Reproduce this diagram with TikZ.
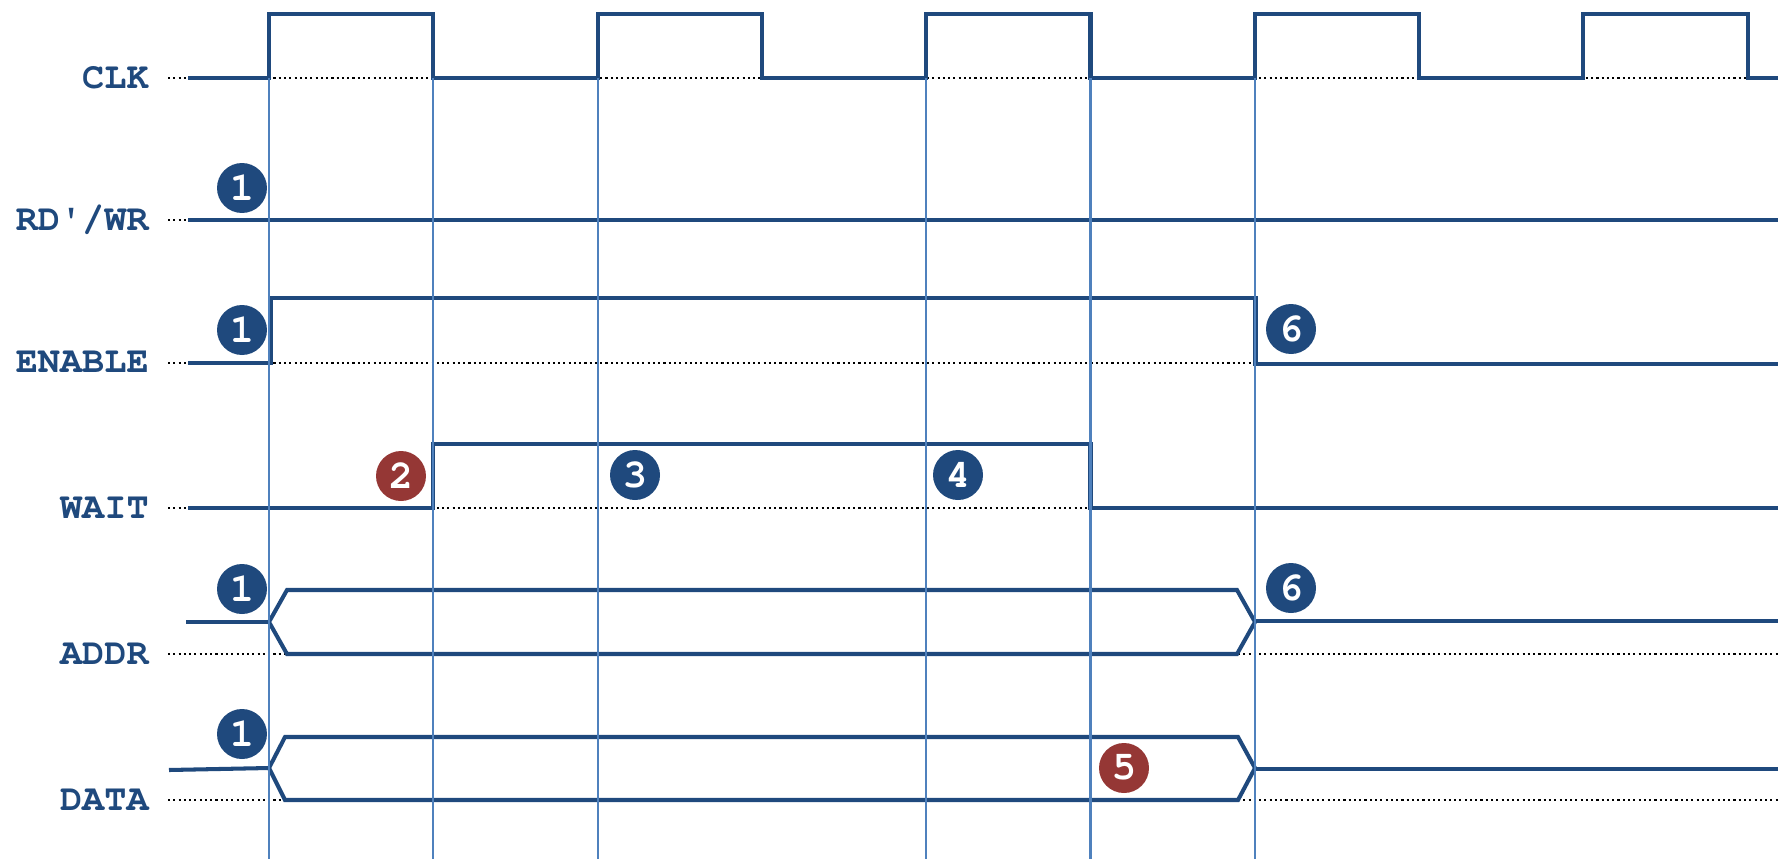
\documentclass[tikz,border=0pt]{standalone}
\usepackage[T1]{fontenc}
\usepackage{courier}
\usepackage{xcolor}
\usepackage{tikz}
\definecolor{navy}{HTML}{1F497D}
\definecolor{gridblue}{HTML}{4F81BD}
\definecolor{darkred}{HTML}{953735}
\tikzset{
  sig/.style={navy, line width=2.3pt},
  base/.style={black, line width=1.2pt, dash pattern=on 1.2pt off 1.8pt},
  edge line/.style={gridblue, line width=1.2pt},
  siglabel/.style={anchor=east, inner sep=0pt, text=navy,
    font=\ttfamily\bfseries\fontsize{21}{21}\selectfont},
  numblue/.style={circle, fill=navy, text=white, minimum size=1cm, inner sep=0pt,
    font=\ttfamily\bfseries\fontsize{23}{23}\selectfont},
  numred/.style={numblue, fill=darkred}
}
\begin{document}
\begin{tikzpicture}[x=0.02cm,y=-0.02cm]
\useasboundingbox (0,0) rectangle (1778,859);
\def\tA{269}\def\tB{433.3}\def\tC{597.6}\def\tD{761.9}\def\tE{926.2}
\def\tF{1090.5}\def\tG{1254.8}\def\tH{1419.1}\def\tI{1583.4}\def\tJ{1747.7}
\node[siglabel] (clk) at (149,78) {CLK};
\node[siglabel] (rdwr) at (149,220) {RD\textquotesingle/WR};
\node[siglabel] (en) at (149,363) {ENABLE};
\node[siglabel] (wait) at (149,508) {WAIT};
\node[siglabel] (addr) at (149,654) {ADDR};
\node[siglabel] (data) at (149,800) {DATA};
\draw[base] (168,78) -- (1778,78);
\draw[base] (168,220) -- (1778,220);
\draw[base] (168,363) -- (1778,363);
\draw[base] (168,508) -- (1778,508);
\draw[base] (168,654) -- (1778,654);
\draw[base] (168,800) -- (1778,800);
\draw[sig] (188,78) -- (\tA,78) -- (\tA,14) -- (\tB,14) -- (\tB,78) -- (\tC,78) -- (\tC,14)
  -- (\tD,14) -- (\tD,78) -- (\tE,78) -- (\tE,14) -- (\tF,14) -- (\tF,78) -- (\tG,78)
  -- (\tG,14) -- (\tH,14) -- (\tH,78) -- (\tI,78) -- (\tI,14) -- (\tJ,14) -- (\tJ,78) -- (1778,78);
\draw[sig] (188,220) -- (1778,220);
\draw[sig] (188,363) -- (271,363) -- (271,298) -- (1255.5,298) -- (1255.5,364) -- (1778,364);
\draw[sig] (188,508) -- (\tB,508) -- (\tB,444) -- (\tF,444) -- (\tF,508) -- (1778,508);
\draw[sig] (186,622) -- (\tA,622);
\draw[sig] (\tA,622) -- (287,590) -- (1237,590) -- (1255,622) -- (1237,654) -- (287,654) -- cycle;
\draw[sig] (1255,621) -- (1778,621);
\draw[sig] (169,770) -- (\tA,768);
\draw[sig] (\tA,768) -- (285,737) -- (1238,737) -- (1255,768) -- (1238,800) -- (285,800) -- cycle;
\draw[sig] (1255,769) -- (1778,769);
\draw[edge line] (\tA,78) -- (\tA,859);
\draw[edge line] (\tB,78) -- (\tB,859);
\draw[edge line] (\tC,78) -- (\tC,859);
\draw[edge line] (\tE,78) -- (\tE,859);
\draw[edge line] (\tF,78) -- (\tF,859);
\draw[edge line] (\tG,78) -- (\tG,859);
\node[numblue] (rdwr1) at (242,188) {1};
\node[numblue] (en1) at (242,330) {1};
\node[numblue] (en6) at (1291,329) {6};
\node[numred] (wait2) at (401,476) {2};
\node[numblue] (wait3) at (635,475) {3};
\node[numblue] (wait4) at (958,475) {4};
\node[numblue] (addr1) at (242,589) {1};
\node[numblue] (addr6) at (1291,588) {6};
\node[numblue] (data1) at (242,734) {1};
\node[numred] (data5) at (1124,768) {5};
\end{tikzpicture}
\end{document}
